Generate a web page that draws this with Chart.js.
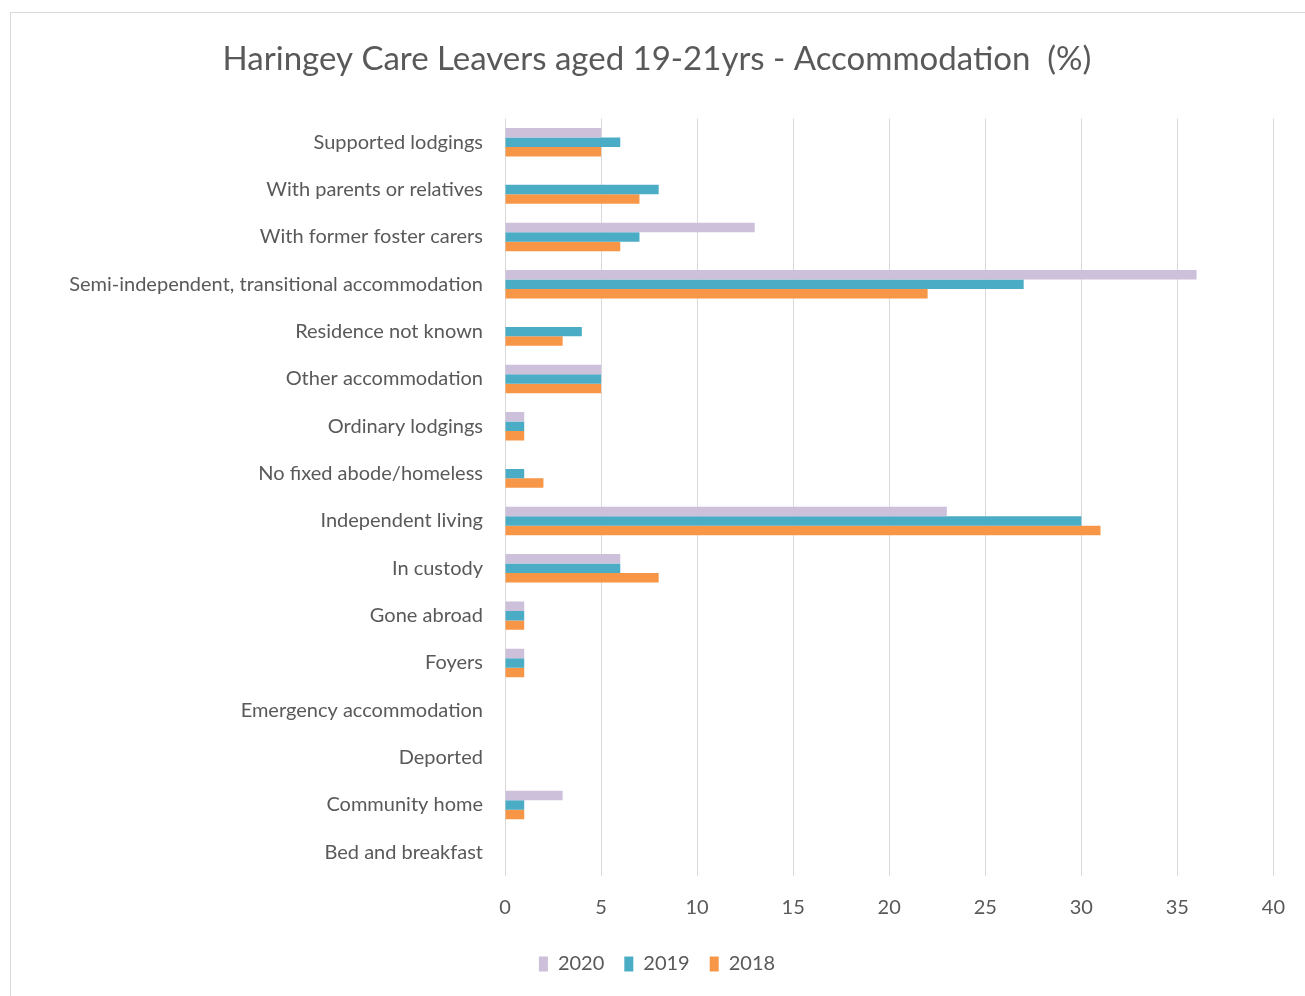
<!DOCTYPE html>
<html>
<head>
<meta charset="utf-8">
<script src="https://cdn.jsdelivr.net/npm/chart.js@4"></script>
<style>
  html, body { margin: 0; padding: 0; background: #fff; }
  #frame { position: absolute; left: 10px; top: 12px; width: 1300px; height: 1000px; border: 1px solid #d9d9d9; }
  #wrap { position: absolute; left: 0; top: 0; width: 1305px; height: 996px; }
</style>
</head>
<body>
<div id="frame"></div>
<div id="wrap"><canvas id="accom"></canvas></div>
<script>
// categories, top to bottom
const categories = [
  'Supported lodgings',
  'With parents or relatives',
  'With former foster carers',
  'Semi-independent, transitional accommodation',
  'Residence not known',
  'Other accommodation',
  'Ordinary lodgings',
  'No fixed abode/homeless',
  'Independent living',
  'In custody',
  'Gone abroad',
  'Foyers',
  'Emergency accommodation',
  'Deported',
  'Community home',
  'Bed and breakfast'
];

// % per year
const y2020 = [5, 0, 13, 36, 0, 5, 1, 0, 23, 6, 1, 1, 0, 0, 3, 0];
const y2019 = [6, 8, 7, 27, 4, 5, 1, 1, 30, 6, 1, 1, 0, 0, 1, 0];
const y2018 = [5, 7, 6, 22, 3, 5, 1, 2, 31, 8, 1, 1, 0, 0, 1, 0];

const xTicks = [0, 5, 10, 15, 20, 25, 30, 35, 40];

const txt = '#595959';
const fontFam = 'Lato, "Open Sans", sans-serif';

new Chart(document.getElementById('accom'), {
  type: 'bar',
  data: {
    labels: categories,
    datasets: [
      { label: '2020', data: y2020, backgroundColor: '#ccc0da' },
      { label: '2019', data: y2019, backgroundColor: '#4bacc6' },
      { label: '2018', data: y2018, backgroundColor: '#f79646' }
    ]
  },
  options: {
    indexAxis: 'y',
    responsive: true,
    maintainAspectRatio: false,
    animation: false,
    layout: { padding: { left: 27, right: 18, top: 0, bottom: 12 } },
    datasets: {
      bar: { categoryPercentage: 0.6, barPercentage: 1.0 }
    },
    plugins: {
      title: {
        display: true,
        text: 'Haringey Care Leavers aged 19-21yrs - Accommodation  (%)',
        color: txt,
        font: { family: fontFam, size: 33, weight: 'normal' },
        padding: { top: 40, bottom: 39 }
      },
      legend: {
        display: true,
        position: 'bottom',
        labels: {
          color: txt,
          font: { family: fontFam, size: 20 },
          boxWidth: 9,
          boxHeight: 15,
          padding: 20
        }
      },
      tooltip: { enabled: false }
    },
    scales: {
      x: {
        min: 0,
        max: 40,
        afterBuildTicks: s => { s.ticks = xTicks.map(v => ({ value: v })); },
        afterFit: s => { s.height = 58; },
        grid: { color: '#d9d9d9', drawTicks: false },
        border: { display: false },
        ticks: { color: txt, font: { family: fontFam, size: 20 }, padding: 20 }
      },
      y: {
        afterFit: s => { s.width = 505 - 27; },
        grid: { display: false, drawTicks: false },
        border: { display: false },
        ticks: { color: txt, font: { family: fontFam, size: 20 }, padding: 22 }
      }
    }
  }
});
</script>
</body>
</html>
